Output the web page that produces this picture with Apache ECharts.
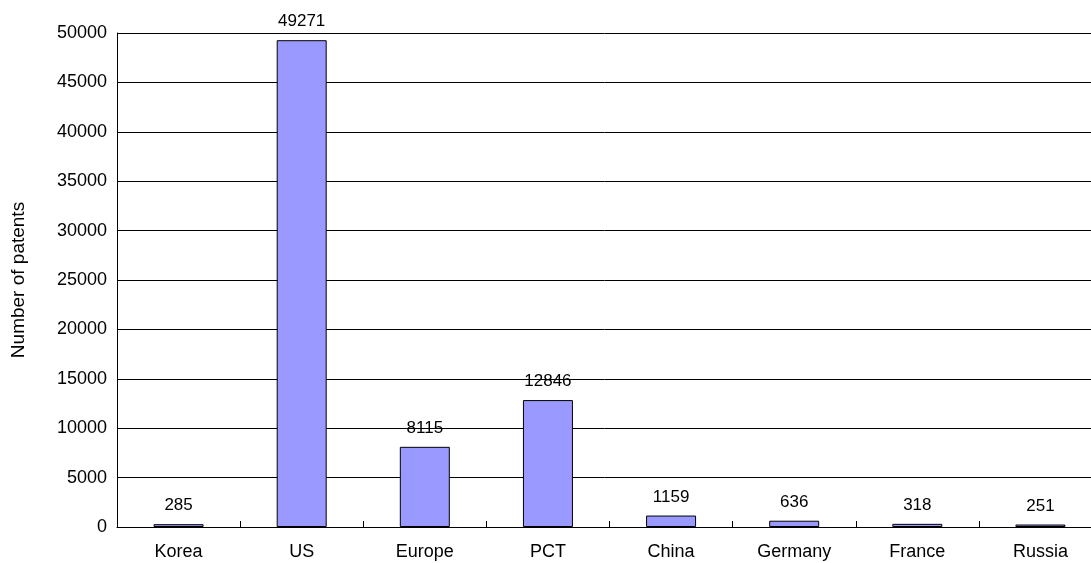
<!DOCTYPE html>
<html>
<head>
<meta charset="utf-8">
<script src="https://cdn.jsdelivr.net/npm/echarts@6/dist/echarts.min.js"></script>
<style>
html, body { margin: 0; padding: 0; background: #fff; }
#chart { width: 1091px; height: 563px; }
</style>
</head>
<body>
<div id="chart"></div>
<script>
var categories = ['Korea', 'US', 'Europe', 'PCT', 'China', 'Germany', 'France', 'Russia']
var patents = [285, 49271, 8115, 12846, 1159, 636, 318, 251]

var myChart = echarts.init(document.getElementById('chart'))
var option = {
  animation: false,
  backgroundColor: '#fff',
  grid: { left: 117, top: 33, width: 985, height: 494, outerBoundsMode: 'none', containLabel: false },
  xAxis: {
    type: 'category',
    data: categories,
    axisLine: { lineStyle: { color: '#000', width: 1 } },
    axisTick: { show: true, inside: true, length: 6, lineStyle: { color: '#000', width: 1 } },
    axisLabel: { color: '#000', fontSize: 18, fontFamily: 'Liberation Sans', margin: 16 }
  },
  yAxis: {
    type: 'value',
    min: 0,
    max: 50000,
    interval: 5000,
    name: 'Number of patents',
    nameLocation: 'middle',
    nameGap: 89,
    nameTextStyle: { color: '#000', fontSize: 19, fontFamily: 'Liberation Sans' },
    axisLine: { show: true, lineStyle: { color: '#000', width: 1 } },
    axisTick: { show: false },
    axisLabel: {
      color: '#000', fontSize: 18, fontFamily: 'Liberation Sans', margin: 10,
      formatter: function (v) { return String(v) }
    },
    splitLine: { lineStyle: { color: '#000', width: 1 } }
  },
  series: [{
    type: 'bar',
    data: patents,
    barWidth: 50,
    itemStyle: { color: '#9999FF', borderColor: '#000', borderWidth: 1 },
    label: {
      show: true,
      position: 'top',
      distance: 10,
      color: '#000',
      fontSize: 17,
      fontFamily: 'Liberation Sans'
    }
  }]
}
myChart.setOption(option)
</script>
</body>
</html>
